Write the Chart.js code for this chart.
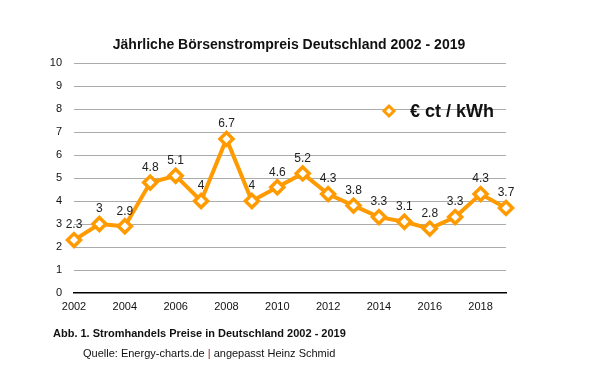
<!DOCTYPE html>
<html>
<head>
<meta charset="utf-8">
<script src="https://cdn.jsdelivr.net/npm/chart.js@4/dist/chart.umd.min.js"></script>
<style>
html,body{margin:0;padding:0;background:#fff;}
#wrap{width:602px;height:391px;position:relative;}
</style>
</head>
<body>
<div id="wrap"><canvas id="c" width="602" height="391"></canvas></div>
<script>
const years = ['2002','2003','2004','2005','2006','2007','2008','2009','2010','2011','2012','2013','2014','2015','2016','2017','2018','2019'];
const prices = [2.3, 3, 2.9, 4.8, 5.1, 4, 6.7, 4, 4.6, 5.2, 4.3, 3.8, 3.3, 3.1, 2.8, 3.3, 4.3, 3.7];
const seriesName = '€ ct / kWh';
const titleText = 'Jährliche Börsenstrompreis Deutschland 2002 - 2019';
const captionText = 'Abb. 1. Stromhandels Preise in Deutschland 2002 - 2019';
const sourceLeft = 'Quelle: Energy-charts.de ';
const sourceSep = '|';
const sourceRight = ' angepasst Heinz Schmid';

const ORANGE = '#FF9A00';
const FONT = '"Liberation Sans", Arial, Helvetica, sans-serif';

const extras = {
  id: 'extras',
  afterDatasetsDraw(chart) {
    const ctx = chart.ctx;
    const meta = chart.getDatasetMeta(0);
    ctx.save();
    ctx.font = '12px ' + FONT;
    ctx.fillStyle = '#222';
    ctx.textAlign = 'center';
    ctx.textBaseline = 'middle';
    meta.data.forEach((pt, i) => {
      ctx.fillText(String(prices[i]), pt.x, pt.y - 15);
    });
    ctx.restore();
  },
  afterDraw(chart) {
    const ctx = chart.ctx;
    ctx.save();
    // title
    ctx.font = 'bold 14px ' + FONT;
    ctx.fillStyle = '#111';
    ctx.textAlign = 'center';
    ctx.textBaseline = 'middle';
    ctx.fillText(titleText, 289, 45);
    // legend
    const lx = 389, ly = 111;
    ctx.beginPath();
    ctx.moveTo(lx, ly - 5); ctx.lineTo(lx + 5, ly); ctx.lineTo(lx, ly + 5); ctx.lineTo(lx - 5, ly); ctx.closePath();
    ctx.fillStyle = '#fff';
    ctx.fill();
    ctx.lineWidth = 3;
    ctx.strokeStyle = ORANGE;
    ctx.stroke();
    ctx.font = 'bold 18px ' + FONT;
    ctx.fillStyle = '#111';
    ctx.textAlign = 'left';
    ctx.fillText(seriesName, 410, 112);
    // caption
    ctx.font = 'bold 11px ' + FONT;
    ctx.fillText(captionText, 53, 334);
    ctx.font = '11px ' + FONT;
    let x = 83;
    ctx.fillText(sourceLeft, x, 354);
    x += ctx.measureText(sourceLeft).width;
    ctx.fillStyle = '#8b1a1a';
    ctx.fillText(sourceSep, x, 354);
    x += ctx.measureText(sourceSep).width;
    ctx.fillStyle = '#111';
    ctx.fillText(sourceRight, x, 354);
    ctx.restore();
  }
};

new Chart(document.getElementById('c'), {
  type: 'line',
  data: {
    labels: years,
    datasets: [{
      label: seriesName,
      data: prices,
      borderColor: ORANGE,
      borderWidth: 4,
      pointStyle: 'rectRot',
      pointRadius: 6.5,
      pointBorderWidth: 3.5,
      pointBackgroundColor: '#fff',
      pointBorderColor: ORANGE,
      tension: 0,
      borderJoinStyle: 'miter'
    }]
  },
  options: {
    responsive: false,
    animation: false,
    devicePixelRatio: 1,
    layout: { padding: { top: 63, right: 96, bottom: 0, left: 0 } },
    plugins: { legend: { display: false }, title: { display: false }, tooltip: { enabled: false } },
    scales: {
      x: {
        offset: false,
        grid: { display: false, drawTicks: false },
        border: { display: true, color: '#000', width: 1.5 },
        ticks: {
          autoSkip: false, maxRotation: 0, padding: 7,
          color: '#111', font: { family: FONT, size: 11 },
          callback: function(v, i) { const l = years[i]; return (parseInt(l) % 2 === 0) ? l : ''; }
        },
        afterFit(scale) { scale.height = 98; }
      },
      y: {
        min: 0, max: 10,
        ticks: { stepSize: 1, padding: 12, color: '#111', font: { family: FONT, size: 11 } },
        grid: {
          drawTicks: false,
          color: (c) => c.tick && c.tick.value === 0 ? 'rgba(0,0,0,0)' : '#ababab',
          lineWidth: 1
        },
        border: { display: false },
        afterFit(scale) { scale.width = 74; }
      }
    }
  },
  plugins: [extras]
});
</script>
</body>
</html>
